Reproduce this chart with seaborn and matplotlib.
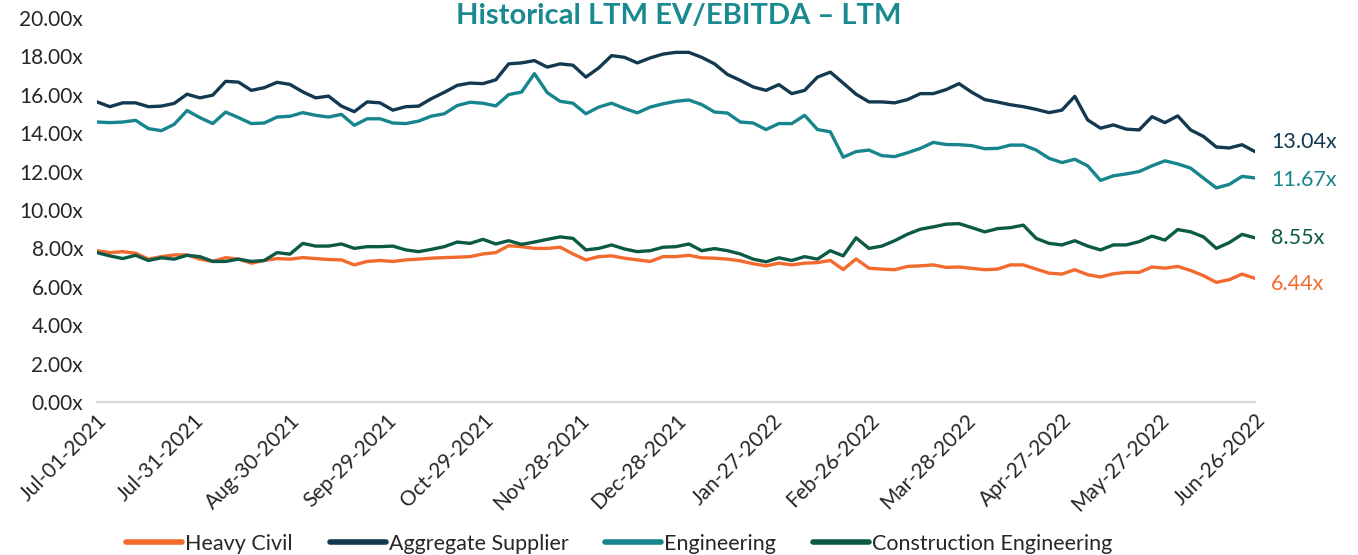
import numpy as np
import pandas as pd
import matplotlib
matplotlib.use("Agg")
import matplotlib.pyplot as plt
import seaborn as sns

# ── Data: LTM EV/EBITDA multiples, sampled every 4 days ─────
dates = pd.date_range("2021-07-01", "2022-06-26", freq="4D")

heavy_civil = [
    7.88, 7.78, 7.83, 7.75, 7.44, 7.57, 7.66, 7.66, 7.44, 7.32, 7.52, 7.44, 7.23, 7.37, 7.47, 7.44,
    7.52, 7.47, 7.42, 7.40, 7.14, 7.32, 7.37, 7.32, 7.40, 7.44, 7.49, 7.52, 7.54, 7.57, 7.71,
    7.78, 8.14, 8.09, 8.00, 8.00, 8.06, 7.71, 7.40, 7.57, 7.61, 7.49, 7.40, 7.32, 7.57, 7.57,
    7.64, 7.51, 7.49, 7.44, 7.35, 7.20, 7.09, 7.23, 7.14, 7.23, 7.26, 7.37, 6.90, 7.45, 6.97,
    6.92, 6.89, 7.06, 7.09, 7.14, 7.01, 7.03, 6.96, 6.89, 6.92, 7.14, 7.14, 6.92, 6.71, 6.66,
    6.89, 6.63, 6.51, 6.68, 6.75, 6.75, 7.03, 6.97, 7.06, 6.85, 6.58, 6.23, 6.37, 6.66, 6.44,
]
aggregate_supplier = [
    15.63, 15.38, 15.58, 15.58, 15.38, 15.41, 15.55, 16.03, 15.84, 15.98, 16.70, 16.66, 16.23, 16.37, 16.65, 16.54,
    16.15, 15.84, 15.93, 15.41, 15.12, 15.63, 15.58, 15.20, 15.38, 15.41, 15.80, 16.13, 16.49, 16.61, 16.58,
    16.78, 17.61, 17.66, 17.78, 17.44, 17.61, 17.54, 16.92, 17.40, 18.04, 17.95, 17.66, 17.92, 18.12, 18.21,
    18.21, 17.95, 17.61, 17.06, 16.75, 16.41, 16.23, 16.53, 16.06, 16.23, 16.92, 17.18, 16.61, 16.03, 15.63,
    15.63, 15.58, 15.75, 16.06, 16.06, 16.27, 16.58, 16.13, 15.75, 15.62, 15.48, 15.38, 15.24, 15.07, 15.20,
    15.92, 14.69, 14.26, 14.43, 14.21, 14.17, 14.86, 14.55, 14.90, 14.17, 13.83, 13.28, 13.23, 13.40, 13.04,
]
engineering = [
    14.58, 14.55, 14.58, 14.67, 14.24, 14.13, 14.46, 15.18, 14.81, 14.50, 15.10, 14.81, 14.50, 14.53, 14.84, 14.88,
    15.07, 14.93, 14.84, 14.98, 14.41, 14.75, 14.75, 14.53, 14.50, 14.63, 14.89, 15.01, 15.44, 15.61, 15.56,
    15.42, 16.01, 16.14, 17.10, 16.11, 15.66, 15.56, 15.01, 15.36, 15.56, 15.29, 15.06, 15.36, 15.53, 15.66,
    15.73, 15.49, 15.10, 15.05, 14.58, 14.53, 14.19, 14.50, 14.50, 14.93, 14.19, 14.07, 12.75, 13.04, 13.12,
    12.83, 12.78, 12.98, 13.21, 13.52, 13.41, 13.40, 13.35, 13.19, 13.21, 13.38, 13.38, 13.12, 12.69, 12.47,
    12.64, 12.30, 11.54, 11.78, 11.88, 12.00, 12.30, 12.56, 12.40, 12.18, 11.66, 11.15, 11.33, 11.75, 11.67,
]
construction_eng = [
    7.78, 7.61, 7.47, 7.64, 7.37, 7.51, 7.44, 7.64, 7.57, 7.32, 7.32, 7.44, 7.32, 7.37, 7.78, 7.70,
    8.26, 8.12, 8.12, 8.23, 8.00, 8.09, 8.09, 8.12, 7.92, 7.83, 7.95, 8.09, 8.33, 8.26, 8.47,
    8.23, 8.40, 8.21, 8.33, 8.47, 8.60, 8.52, 7.92, 8.00, 8.18, 7.97, 7.83, 7.88, 8.06, 8.09,
    8.23, 7.88, 7.99, 7.88, 7.71, 7.44, 7.30, 7.51, 7.37, 7.57, 7.44, 7.88, 7.61, 8.55, 8.00,
    8.12, 8.40, 8.74, 9.00, 9.12, 9.26, 9.29, 9.08, 8.86, 9.03, 9.08, 9.21, 8.52, 8.26, 8.18,
    8.40, 8.12, 7.92, 8.18, 8.18, 8.35, 8.64, 8.43, 8.98, 8.86, 8.60, 8.00, 8.30, 8.73, 8.55,
]

SERIES = ["Heavy Civil", "Aggregate Supplier", "Engineering", "Construction Engineering"]
COLORS = ["#F26A2E", "#12394F", "#17858E", "#0B5A45"]
TITLE_COLOR = "#1A8A91"

df = pd.DataFrame({
    "date": dates,
    "Heavy Civil": heavy_civil,
    "Aggregate Supplier": aggregate_supplier,
    "Engineering": engineering,
    "Construction Engineering": construction_eng,
})
long = df.melt(id_vars="date", var_name="segment", value_name="multiple")

# ── Plot ───────────────────────────────────────────────────
sns.set_style("white")
plt.rcParams["font.family"] = ["Lato", "DejaVu Sans"]

fig = plt.figure(figsize=(13.58, 5.55), dpi=100)
ax = fig.add_axes([0.0714, 0.2757, 0.8527, 0.6919])

sns.lineplot(data=long, x="date", y="multiple", hue="segment",
             hue_order=SERIES, palette=COLORS, linewidth=2.4, ax=ax)

ax.set_ylim(0, 20)
ax.set_xlim(dates[0], dates[-1])
ax.set_yticks(np.arange(0, 20.01, 2))
ax.set_yticklabels([f"{v:.2f}x" for v in np.arange(0, 20.01, 2)], fontsize=15)

ticks = pd.date_range("2021-07-01", periods=13, freq="30D")
ax.set_xticks(ticks)
ax.set_xticklabels([t.strftime("%b-%d-%Y") for t in ticks], rotation=45,
                   ha="right", rotation_mode="anchor", fontsize=15)
ax.tick_params(axis="x", length=0, pad=6)
ax.tick_params(axis="y", length=0, pad=10)
ax.set_xlabel(""); ax.set_ylabel("")

for side in ["top", "right", "left"]:
    ax.spines[side].set_visible(False)
ax.spines["bottom"].set_color("#D9D9D9")
ax.spines["bottom"].set_linewidth(1.5)

# end-of-line value labels
ends = [heavy_civil[-1], aggregate_supplier[-1], engineering[-1], construction_eng[-1]]
offsets = [-6, 10, -2, 0]
for val, col, dy in zip(ends, COLORS, offsets):
    ax.annotate(f"{val:.2f}x", xy=(dates[-1], val), xytext=(16, dy),
                textcoords="offset pixels", ha="left", va="center",
                fontsize=15.5, color=col, annotation_clip=False)

fig.text(0.5, 0.972, "Historical LTM EV/EBITDA \u2013 LTM", ha="center", va="center",
         fontsize=21, fontweight="bold", color=TITLE_COLOR)

handles, labels = ax.get_legend_handles_labels()
ax.get_legend().remove()
leg = fig.legend(handles, labels, loc="center", bbox_to_anchor=(0.456, 0.02),
                 ncol=4, frameon=False, fontsize=15.5, handlelength=2.6,
                 handletextpad=0.15, columnspacing=1.7)
for line in leg.get_lines():
    line.set_linewidth(4)

plt.savefig("out.png", dpi=100)
plt.close()
